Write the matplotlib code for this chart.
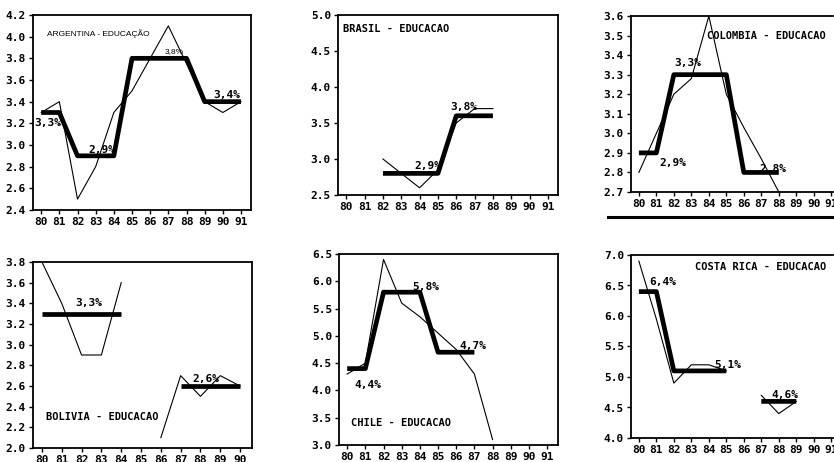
import numpy as np
import matplotlib
matplotlib.use("Agg")
import matplotlib.pyplot as plt

plt.rcParams['font.family'] = ['DejaVu Sans Mono', 'DejaVu Sans']
plt.rcParams['font.weight'] = 'bold'

years = [80, 81, 82, 83, 84, 85, 86, 87, 88, 89, 90, 91]
nan = np.nan

# ARGENTINA
arg_years = [80, 81, 82, 83, 84, 85, 86, 87, 88, 89, 90, 91]
arg_annual = [3.3, 3.4, 2.5, 2.8, 3.3, 3.5, 3.8, 4.1, 3.75, 3.4, 3.3, 3.4]
arg_avg = [3.3, 3.3, 2.9, 2.9, 2.9, 3.8, 3.8, 3.8, 3.8, 3.4, 3.4, 3.4]

# BRASIL
bra_years = [82, 83, 84, 85, 86, 87, 88]
bra_annual = [3.0, 2.8, 2.6, 2.85, 3.5, 3.7, 3.7]
bra_avg = [2.8, 2.8, 2.8, 2.8, 3.6, 3.6, 3.6]

# COLOMBIA
col_years = [80, 81, 82, 83, 84, 85, 86, 87, 88]
col_annual = [2.8, 3.0, 3.2, 3.28, 3.6, 3.2, 3.03, 2.87, 2.7]
col_avg = [2.9, 2.9, 3.3, 3.3, 3.3, 3.3, 2.8, 2.8, 2.8]

# BOLIVIA
bol_years = [80, 81, 82, 83, 84, 85, 86, 87, 88, 89, 90]
bol_annual = [3.8, 3.4, 2.9, 2.9, 3.6, nan, 2.1, 2.7, 2.5, 2.7, 2.6]
bol_avg = [3.3, 3.3, 3.3, 3.3, 3.3, nan, nan, 2.6, 2.6, 2.6, 2.6]

# CHILE
chi_years = [80, 81, 82, 83, 84, 85, 86, 87, 88]
chi_annual = [4.3, 4.5, 6.4, 5.6, 5.35, 5.05, 4.75, 4.3, 3.1]
chi_avg = [4.4, 4.4, 5.8, 5.8, 5.8, 4.7, 4.7, 4.7, nan]

# COSTA RICA
cri_years = [80, 81, 82, 83, 84, 85, 86, 87, 88, 89]
cri_annual = [6.9, 5.95, 4.9, 5.2, 5.2, 5.1, nan, 4.7, 4.4, 4.6]
cri_avg = [6.4, 6.4, 5.1, 5.1, 5.1, 5.1, nan, 4.6, 4.6, 4.6]

W, H = 834, 462
fig = plt.figure(figsize=(W / 100, H / 100), dpi=100)


def make_ax(l, r, t, b):
    return fig.add_axes([l / W, 1 - b / H, (r - l) / W, (b - t) / H])


def panel(ax, xs, annual, avg, xlim, ylim, yticks, yfmt, xt, title, tpos, labels, tfont=None):
    ax.plot(xs, annual, color='black', lw=0.8)
    ax.plot(xs, avg, color='black', lw=3.4, solid_capstyle='butt')
    ax.set_xlim(*xlim)
    ax.set_ylim(*ylim)
    ax.set_xticks(xt)
    ax.set_xticklabels([str(x) for x in xt])
    ax.set_yticks(yticks)
    ax.set_yticklabels([yfmt % v for v in yticks])
    ax.tick_params(direction='out', length=3, width=1, labelsize=8, pad=2)
    for s in ax.spines.values():
        s.set_linewidth(1.3)
    if tfont is None:
        ax.text(tpos[0], tpos[1], title, fontsize=7.5, ha='left', va='center')
    else:
        ax.text(tpos[0], tpos[1], title, fontsize=6, ha='left', va='center',
                family='Liberation Sans', weight='normal')
    for (x, y, s, kw) in labels:
        opts = dict(fontsize=8, ha='left', va='center')
        opts.update(kw)
        ax.text(x, y, s, **opts)


ax1 = make_ax(33, 251, 15, 210)
panel(ax1, arg_years, arg_annual, arg_avg, (79.55, 91.55), (2.4, 4.2),
      [2.4, 2.6, 2.8, 3.0, 3.2, 3.4, 3.6, 3.8, 4.0, 4.2], '%.1f', years,
      'ARGENTINA - EDUCAÇÃO', (80.3, 4.03),
      [(79.6, 3.2, '3,3%', {}), (82.6, 2.95, '2,9%', {}),
       (86.8, 3.86, '3,8%', {'family': 'Liberation Sans', 'fontsize': 6,
                             'weight': 'normal'}),
       (89.5, 3.46, '3,4%', {})], tfont='arial')

ax2 = make_ax(338, 558, 15, 195)
panel(ax2, bra_years, bra_annual, bra_avg, (79.55, 91.55), (2.5, 5.0),
      [2.5, 3.0, 3.5, 4.0, 4.5, 5.0], '%.1f', years,
      'BRASIL - EDUCACAO', (79.8, 4.8),
      [(83.7, 2.9, '2,9%', {}), (85.7, 3.72, '3,8%', {})])

ax3 = make_ax(631, 833, 16, 192)
panel(ax3, col_years, col_annual, col_avg, (79.55, 91.1), (2.7, 3.6),
      [2.7, 2.8, 2.9, 3.0, 3.1, 3.2, 3.3, 3.4, 3.5, 3.6], '%.1f', years,
      'COLOMBIA - EDUCACAO', (83.9, 3.5),
      [(81.2, 2.85, '2,9%', {}), (82.0, 3.36, '3,3%', {}),
       (86.9, 2.82, '2,8%', {})])
ax3.spines['right'].set_visible(False)
fig.add_artist(plt.Line2D([608 / W, 834 / W], [1 - 217 / H, 1 - 217 / H],
                          color='black', lw=2.2))

ax4 = make_ax(33, 252, 262, 448)
panel(ax4, bol_years, bol_annual, bol_avg, (79.55, 90.6), (2.0, 3.8),
      [2.0, 2.2, 2.4, 2.6, 2.8, 3.0, 3.2, 3.4, 3.6, 3.8], '%.1f', bol_years,
      'BOLIVIA - EDUCACAO', (80.2, 2.3),
      [(81.7, 3.4, '3,3%', {}), (87.6, 2.67, '2,6%', {})])

ax5 = make_ax(339, 558, 254, 445)
panel(ax5, chi_years, chi_annual, chi_avg, (79.55, 91.6), (3.0, 6.5),
      [3.0, 3.5, 4.0, 4.5, 5.0, 5.5, 6.0, 6.5], '%.1f', years,
      'CHILE - EDUCACAO', (80.2, 3.4),
      [(80.4, 4.1, '4,4%', {}), (83.6, 5.9, '5,8%', {}),
       (86.2, 4.82, '4,7%', {})])

ax6 = make_ax(631, 833, 255, 438)
panel(ax6, cri_years, cri_annual, cri_avg, (79.55, 91.1), (4.0, 7.0),
      [4.0, 4.5, 5.0, 5.5, 6.0, 6.5, 7.0], '%.1f', years,
      'COSTA RICA - EDUCACAO', (83.2, 6.8),
      [(80.6, 6.55, '6,4%', {}), (84.3, 5.2, '5,1%', {}),
       (87.6, 4.7, '4,6%', {})])
ax6.spines['right'].set_visible(False)

fig.savefig('out.png', dpi=100)
